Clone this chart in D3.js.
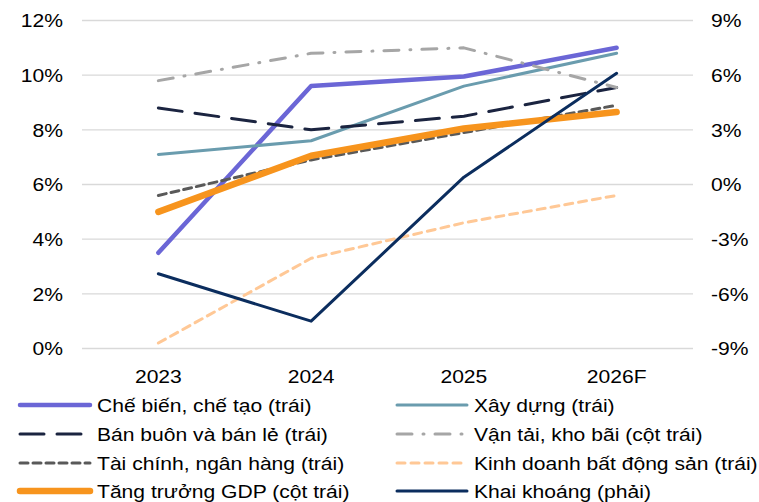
<!DOCTYPE html>
<html>
<head>
<meta charset="utf-8">
<script src="https://cdn.jsdelivr.net/npm/d3@7"></script>
<style>
  body { margin: 0; background: #fff; }
  text { font-family: "Liberation Sans", Arial, sans-serif; fill: #000; }
</style>
</head>
<body>
<div id="chart"></div>
<script>
// categories and series
let years = ["2023", "2024", "2025", "2026F"];
let leftTicks = [0, 2, 4, 6, 8, 10, 12];
let rightTicks = [-9, -6, -3, 0, 3, 6, 9];

let cheBien   = [3.5, 9.6, 9.95, 11.0];
let xayDung   = [7.1, 7.6, 9.6, 10.8];
let banBuon   = [8.8, 8.0, 8.5, 9.55];
let vanTai    = [9.8, 10.8, 11.0, 9.55];
let taiChinh  = [5.6, 6.9, 7.9, 8.9];
let batDongSan = [0.2, 3.3, 4.6, 5.6];
let gdp       = [5.0, 7.05, 8.05, 8.65];
let khaiKhoang = [-4.9, -7.5, 0.4, 6.1];

let series = [
  {name: "Chế biến, chế tạo (trái)", values: cheBien, axis: "L", color: "#6b66d6", width: 4.5, dash: null},
  {name: "Xây dựng (trái)", values: xayDung, axis: "L", color: "#6a9cae", width: 3, dash: null},
  {name: "Bán buôn và bán lẻ (trái)", values: banBuon, axis: "L", color: "#1b2440", width: 3, dash: "24,13"},
  {name: "Vận tải, kho bãi (cột trái)", values: vanTai, axis: "L", color: "#a6a6a6", width: 3, dash: "15,11,1,11"},
  {name: "Tài chính, ngân hàng (trái)", values: taiChinh, axis: "L", color: "#595959", width: 3, dash: "8,5"},
  {name: "Kinh doanh bất động sản (trái)", values: batDongSan, axis: "L", color: "#ffc896", width: 3, dash: "8,6"},
  {name: "Tăng trưởng GDP (cột trái)", values: gdp, axis: "L", color: "#f7941d", width: 6.5, dash: null},
  {name: "Khai khoáng (phải)", values: khaiKhoang, axis: "R", color: "#0b2d5e", width: 3, dash: null}
];

let width = 759, height = 502;
let margin = {top: 20.5, right: 66, bottom: 153.5, left: 82};
let fontSize = 18.5;
let stretch = 1.14; // text in the picture is a bit wider than plain Arial

let svg = d3.select("#chart").append("svg")
  .attr("width", width)
  .attr("height", height);

let x = d3.scaleBand()
  .domain(years)
  .range([margin.left, width - margin.right]);

let yL = d3.scaleLinear()
  .domain([0, 12])
  .range([height - margin.bottom, margin.top]);

let yR = d3.scaleLinear()
  .domain([-9, 9])
  .range([height - margin.bottom, margin.top]);

function label(g, tx, ty, anchor, str) {
  g.append("text")
    .attr("transform", `translate(${tx},${ty}) scale(${stretch},1)`)
    .attr("dy", "0.36em")
    .attr("text-anchor", anchor)
    .attr("font-size", fontSize)
    .text(str);
}

// gridlines
svg.append("g")
  .selectAll("line")
  .data(leftTicks)
  .join("line")
  .attr("x1", margin.left)
  .attr("x2", width - margin.right)
  .attr("y1", d => yL(d))
  .attr("y2", d => yL(d))
  .attr("stroke", "#d9d9d9")
  .attr("stroke-width", 1.3);

// axis labels
let axisG = svg.append("g");
leftTicks.forEach(d => label(axisG, 63, yL(d), "end", d + "%"));
rightTicks.forEach(d => label(axisG, 711, yR(d), "start", d + "%"));
years.forEach(d => label(axisG, x(d) + x.bandwidth() / 2, 376, "middle", d));

// lines
series.forEach(function(s) {
  let yScale = s.axis === "L" ? yL : yR;
  let line = d3.line()
    .x((d, i) => x(years[i]) + x.bandwidth() / 2)
    .y(d => yScale(d));
  svg.append("path")
    .datum(s.values)
    .attr("d", line)
    .attr("fill", "none")
    .attr("stroke", s.color)
    .attr("stroke-width", s.width)
    .attr("stroke-linecap", "round")
    .attr("stroke-linejoin", "round")
    .attr("stroke-dasharray", s.dash);
});

// legend, two columns
let legendRows = [405, 434, 463, 491];
let legendCols = [20, 397];
let legend = svg.append("g");
series.forEach(function(s, i) {
  let col = legendCols[i % 2];
  let row = legendRows[Math.floor(i / 2)];
  legend.append("line")
    .attr("x1", col)
    .attr("x2", col + 70)
    .attr("y1", row)
    .attr("y2", row)
    .attr("stroke", s.color)
    .attr("stroke-width", s.width)
    .attr("stroke-linecap", "round")
    .attr("stroke-dasharray", s.dash);
  label(legend, col + 77, row, "start", s.name);
});
</script>
</body>
</html>
